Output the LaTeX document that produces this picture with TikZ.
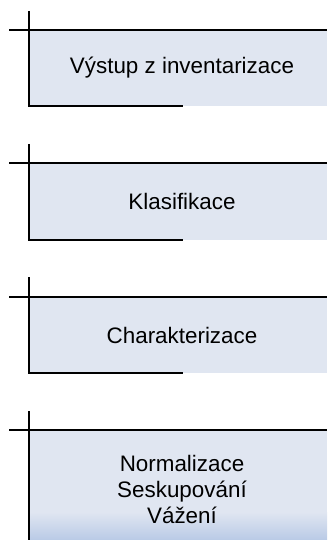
\documentclass[tikz,border=0pt]{standalone}
\usepackage{fontspec}
\setmainfont{Liberation Sans}
\definecolor{boxfill}{HTML}{E0E6F1}
\definecolor{boxdeep}{HTML}{B9CAE6}
\tikzset{
  frame/.style={line width=1.8pt, black},
  label/.style={font=\fontsize{22.4}{26}\selectfont, align=center, inner sep=0pt, anchor=center},
}
\begin{document}
\begin{tikzpicture}[x=1pt,y=-1pt]
\useasboundingbox (0,0) rectangle (327,540);
% Box 1
\fill[boxfill] (29,30) rectangle (327,106);
\draw[frame] (9,30) -- (327,30);
\draw[frame] (29,11) -- (29,106) -- (183,106);
\node[label] (n1) at (182,68) {Výstup z inventarizace};
% Box 2
\fill[boxfill] (29,163) rectangle (327,240);
\draw[frame] (9,163) -- (327,163);
\draw[frame] (29,144) -- (29,240) -- (183,240);
\node[label] (n2) at (182,201) {Klasifikace};
% Box 3
\fill[boxfill] (29,297) rectangle (327,373);
\draw[frame] (9,297) -- (327,297);
\draw[frame] (29,277) -- (29,373) -- (183,373);
\node[label] (n3) at (182,335) {Charakterizace};
% Box 4
\fill[boxfill] (29,430) rectangle (327,512);
\shade[top color=boxfill, bottom color=boxdeep] (29,512) rectangle (327,540);
\draw[frame] (9,430) -- (327,430);
\draw[frame] (29,411) -- (29,540);
\node[label] (n4) at (182,489) {Normalizace\\Seskupování\\Vážení};
\end{tikzpicture}
\end{document}
